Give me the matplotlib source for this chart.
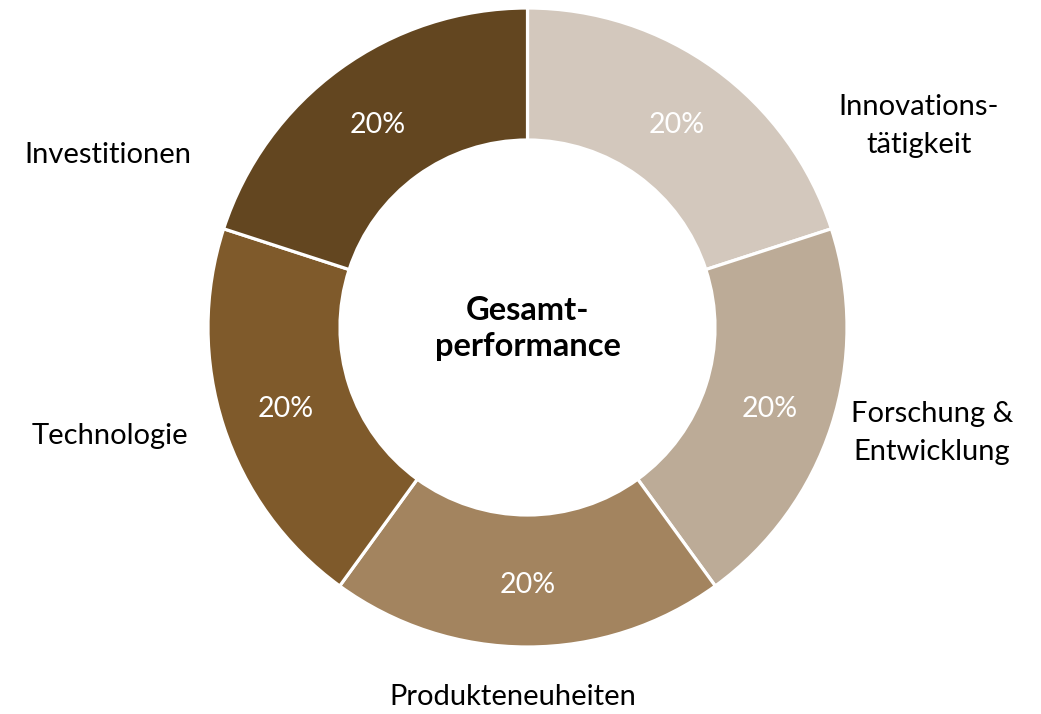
import matplotlib
matplotlib.use("Agg")
import matplotlib.pyplot as plt
import numpy as np

categories = ["Innovations-\ntätigkeit", "Forschung &\nEntwicklung", "Produkteneuheiten",
              "Technologie", "Investitionen"]
values = [20, 20, 20, 20, 20]
center_label = "Gesamt-\nperformance"

colors = ["#d3c8bd", "#bcab97", "#a3845f", "#7f5a2b", "#634620"]
# label positions in pixel coordinates (x, y from top)
label_pos = [(919, 126), (932, 433), (513, 697), (110, 436), (108, 155)]

plt.rcParams['font.family'] = ['Lato', 'DejaVu Sans']

W, H = 1041, 714
fig = plt.figure(figsize=(W / 100, H / 100), dpi=100)
ax = fig.add_axes([0, 0, 1, 1])

cx, cy, R = 527.5, H - 327.5, 319.5
width = 132

wedges, texts = ax.pie(values, colors=colors, startangle=90, counterclock=False,
                       center=(cx, cy), radius=R, frame=True,
                       wedgeprops=dict(width=width, edgecolor='white', linewidth=2.3))
ax.set_xlim(0, W)
ax.set_ylim(0, H)
ax.set_aspect('equal')
ax.axis('off')

total = sum(values)
start = 90.0
r_pct = R - width / 2 + 1
for v in values:
    ang = start - 360.0 * v / total / 2
    x = cx + r_pct * np.cos(np.radians(ang))
    y = cy + r_pct * np.sin(np.radians(ang)) - 3
    ax.text(x, y, f"{v / total * 100:.0f}%", color='white', fontsize=20.5,
            ha='center', va='center')
    start -= 360.0 * v / total

for lab, (x, y) in zip(categories, label_pos):
    ax.text(x, H - y, lab, fontsize=21, ha='center', va='center', color='black',
            linespacing=1.6)

ax.text(cx, cy - 1, center_label, fontsize=23.5, fontweight='bold', ha='center',
        va='center', linespacing=1.3)

fig.savefig("out.png", dpi=100)
